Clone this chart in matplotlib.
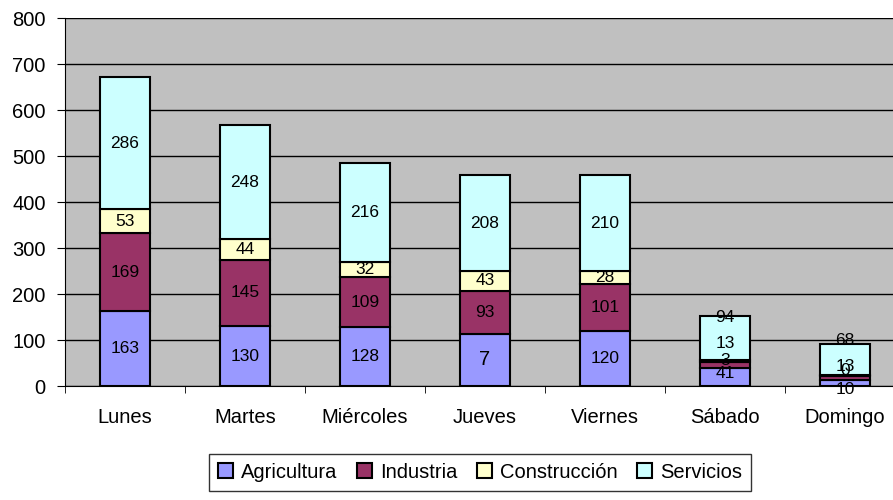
import matplotlib.pyplot as plt
import numpy as np

plt.rcParams['font.family'] = ['Liberation Sans', 'DejaVu Sans']

dias = ['Lunes', 'Martes', 'Miércoles', 'Jueves', 'Viernes', 'Sábado', 'Domingo']
agricultura = [163, 130, 128, 114, 120, 40, 12]
industria = [169, 145, 109, 93, 101, 12, 9]
construccion = [53, 44, 32, 43, 28, 4, 4]
servicios = [286, 248, 216, 208, 210, 96, 66]

# texts shown on the bars (the original chart has a few odd ones)
lab_agri = ['163', '130', '128', '7', '120', '41', '10']
lab_ind = ['169', '145', '109', '93', '101', '3', '0']
lab_cons = ['53', '44', '32', '43', '28', '13', '13']
lab_serv = ['286', '248', '216', '208', '210', '94', '68']

series = [
    ('Agricultura', agricultura, lab_agri, '#9999FF'),
    ('Industria', industria, lab_ind, '#993366'),
    ('Construcción', construccion, lab_cons, '#FFFFCC'),
    ('Servicios', servicios, lab_serv, '#CCFFFF'),
]

# label positions for the tiny weekend segments, where labels overlap anyway
weekend_y = {
    (5, 0): 28, (5, 1): 56, (5, 2): 93, (5, 3): 148,
    (6, 0): -7, (6, 1): 33, (6, 2): 42, (6, 3): 98,
}

fig = plt.figure(figsize=(8.93, 5), dpi=100)
# plot area runs past the right edge of the picture, as in the original
ax = fig.add_axes([65 / 893, 0.228, 840 / 893, 0.736])
ax.set_facecolor('#C0C0C0')

x = np.arange(len(dias))
bottom = np.zeros(len(dias))
for si, (name, vals, labs, col) in enumerate(series):
    vals = np.array(vals, dtype=float)
    ax.bar(x, vals, 0.417, bottom=bottom, color=col, edgecolor='black',
           linewidth=1.5, label=name, zorder=3)
    for i in range(len(dias)):
        y = weekend_y.get((i, si), bottom[i] + vals[i] / 2)
        fs = 14.5 if labs[i] == '7' else 12.5
        ax.text(x[i], y, labs[i], ha='center', va='center', fontsize=fs,
                color='black', zorder=4)
    bottom += vals

ax.set_ylim(0, 800)
ax.set_xlim(-0.5, len(dias) - 0.5)
ax.set_yticks(range(0, 801, 100))
ax.yaxis.grid(True, color='black', linewidth=1)
ax.set_axisbelow(True)
ax.set_xticks(x)
ax.set_xticklabels(dias, fontsize=14.5)
ax.tick_params(axis='x', length=0, pad=16)
ax.set_xticks(np.arange(-0.5, len(dias), 1), minor=True)
ax.tick_params(axis='x', which='minor', length=5, direction='out')
ax.tick_params(axis='y', labelsize=14.5, length=6, direction='out', pad=8)
for s in ['top', 'right']:
    ax.spines[s].set_visible(False)
ax.spines['left'].set_color('black')
ax.spines['bottom'].set_color('black')

leg = fig.legend(loc='lower center', bbox_to_anchor=(0.5375, -0.002), ncol=4,
                 fontsize=14.5, frameon=True, fancybox=False, edgecolor='black',
                 handlelength=0.75, handleheight=0.75, handletextpad=0.4,
                 columnspacing=0.95, borderpad=0.45)
leg.get_frame().set_linewidth(1)

plt.savefig('out.png', dpi=100)
